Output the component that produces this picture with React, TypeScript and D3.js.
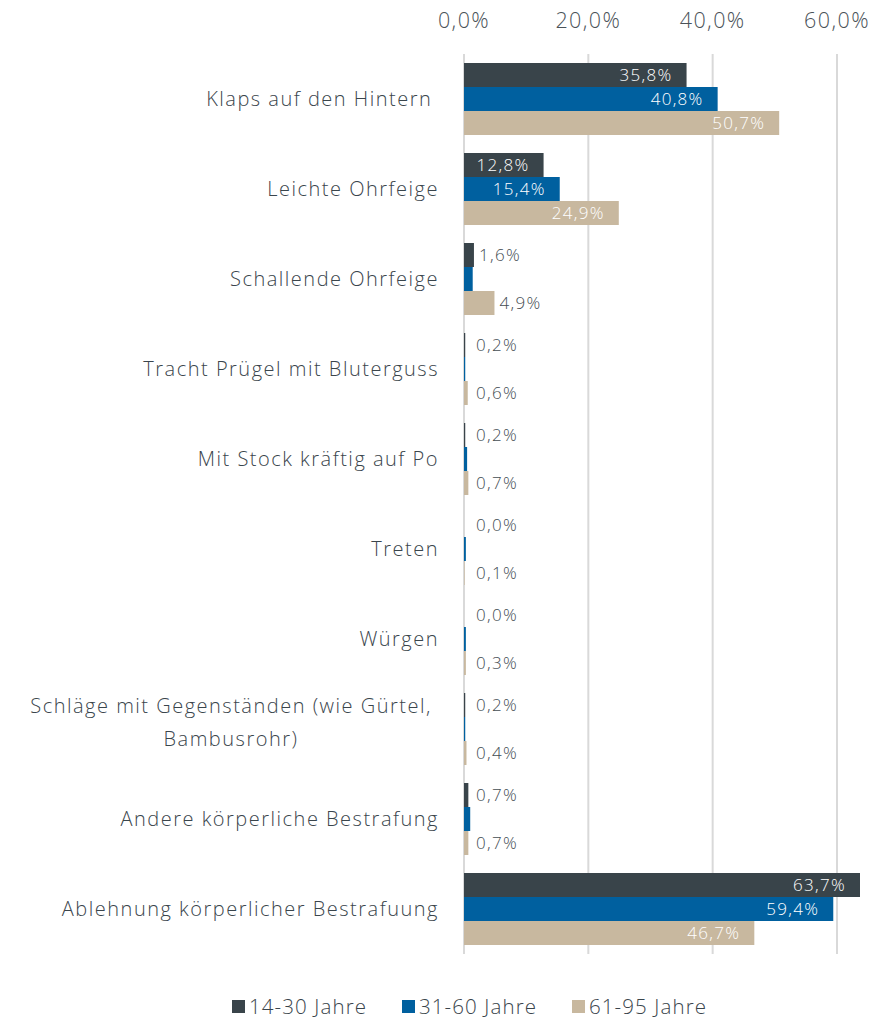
import React from "react";
import * as d3 from "d3";

const categories: string[][] = [
  ["Klaps auf den Hintern "],
  ["Leichte Ohrfeige"],
  ["Schallende Ohrfeige"],
  ["Tracht Prügel mit Bluterguss"],
  ["Mit Stock kräftig auf Po"],
  ["Treten"],
  ["Würgen"],
  ["Schläge mit Gegenständen (wie Gürtel,", "Bambusrohr)"],
  ["Andere körperliche Bestrafung"],
  ["Ablehnung körperlicher Bestrafuung"],
];

const seriesNames = ["14-30 Jahre", "31-60 Jahre", "61-95 Jahre"];
const seriesColors = ["#39444a", "#00609f", "#c8b89f"];

const young = [35.8, 12.8, 1.6, 0.2, 0.2, 0.0, 0.0, 0.2, 0.7, 63.7];
const middle = [40.8, 15.4, 1.4, 0.2, 0.5, 0.3, 0.3, 0.2, 1.0, 59.4];
const old = [50.7, 24.9, 4.9, 0.6, 0.7, 0.1, 0.3, 0.4, 0.7, 46.7];
// labels hidden for the middle series in small categories
const showMiddleLabel = [true, true, false, false, false, false, false, false, false, true];

const tickValues = [0, 20, 40, 60];

const fmt = (v: number) => v.toFixed(1).replace(".", ",") + "%";

export default function App() {
  const W = 890;
  const H = 1022;
  const x = d3.scaleLinear().domain([0, 60]).range([464, 837]);
  const y = d3
    .scaleBand<number>()
    .domain(d3.range(categories.length))
    .range([54, 954])
    .paddingInner(0.2)
    .paddingOuter(0.1);
  const inner = d3
    .scaleBand<number>()
    .domain([0, 1, 2])
    .range([0, y.bandwidth()]);
  const series = [young, middle, old];
  const font = "'Open Sans', sans-serif";
  const textColor = "#3a454c";
  const labelColor = "#444d53";
  const fw = 350;

  return (
    <svg width={W} height={H} style={{ display: "block", position: "absolute", left: 0, top: 0 }} fontFamily={font} fontWeight={fw}>
      {tickValues.map((t) => (
        <g key={t}>
          <line x1={x(t)} x2={x(t)} y1={54} y2={954} stroke="#d9d9d9" strokeWidth={2} />
          <text x={x(t)} y={28} textAnchor="middle" fontSize={21.5} fill="#4a5258" letterSpacing={1.4}>
            {fmt(t)}
          </text>
        </g>
      ))}
      {categories.map((lines, i) => {
        const cy = (y(i) as number) + y.bandwidth() / 2;
        const lh = 33;
        if (lines.length === 1) {
          return (
            <text key={i} x={439} y={cy} dy="0.35em" textAnchor="end" fontSize={20} fill={textColor} letterSpacing={1.5} style={{ whiteSpace: "pre" }}>
              {lines[0]}
            </text>
          );
        }
        return (
          <text key={i} fontSize={20} fill={textColor} letterSpacing={1.5} textAnchor="middle">
            {lines.map((l, k) => (
              <tspan key={k} x={231} y={cy - 23 + k * lh} dy="0.35em">
                {l}
              </tspan>
            ))}
          </text>
        );
      })}
      {series.map((vals, s) =>
        vals.map((v, i) => {
          const by = (y(i) as number) + (inner(s) as number);
          const bh = inner.bandwidth();
          const xe = x(v);
          const big = v > 10;
          const show = s !== 1 || showMiddleLabel[i];
          return (
            <g key={s + "-" + i}>
              <rect x={x(0)} y={by} width={Math.max(0, xe - x(0))} height={bh} fill={seriesColors[s]} />
              {show && (
                <text
                  x={big ? xe - 14 : Math.max(xe + 5, 476)}
                  y={by + bh / 2}
                  dy="0.35em"
                  textAnchor={big ? "end" : "start"}
                  fontSize={17}
                  fill={big ? "#ffffff" : labelColor}
                  letterSpacing={1.3}
                >
                  {fmt(v)}
                </text>
              )}
            </g>
          );
        })
      )}
      {seriesNames.map((n, s) => {
        const lx = [232, 402, 572][s];
        return (
          <g key={n}>
            <rect x={lx} y={1000} width={13} height={13} fill={seriesColors[s]} />
            <text x={lx + 17} y={1007} dy="0.35em" fontSize={20.5} fill={textColor} letterSpacing={1.1}>
              {n}
            </text>
          </g>
        );
      })}
    </svg>
  );
}
